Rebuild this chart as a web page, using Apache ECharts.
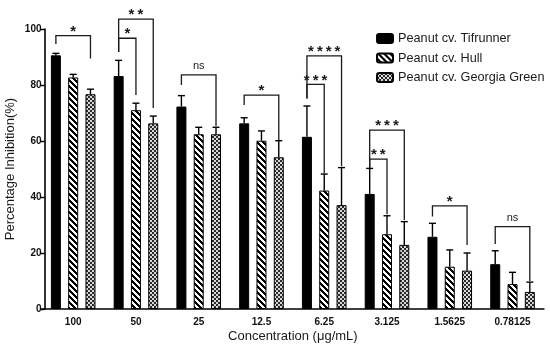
<!DOCTYPE html>
<html>
<head>
<meta charset="utf-8">
<script src="https://cdn.jsdelivr.net/npm/echarts@6/dist/echarts.min.js"></script>
<style>
html,body{margin:0;padding:0;background:#fff;}
#chart{width:550px;height:347px;}
</style>
</head>
<body>
<div id="chart"></div>
<script>
// ---- data ----
const categories = ['100', '50', '25', '12.5', '6.25', '3.125', '1.5625', '0.78125'];
const seriesNames = ['Peanut cv. Tifrunner', 'Peanut cv. Hull', 'Peanut cv. Georgia Green'];
const tifrunner   = [90.6, 83.2, 72.3, 66.3, 61.5, 41.1, 25.8, 16.0];
const tifrunnerSD = [0.7, 5.6, 3.9, 2.0, 11.0, 9.1, 4.8, 4.8];
const hull        = [82.7, 71.0, 62.4, 60.1, 42.3, 26.7, 15.1, 8.9];
const hullSD      = [1.1, 2.5, 2.5, 3.5, 5.9, 6.6, 6.0, 4.2];
const georgia     = [76.7, 66.3, 62.4, 54.2, 37.1, 22.9, 13.7, 6.1];
const georgiaSD   = [1.8, 2.6, 2.5, 5.9, 13.4, 8.3, 6.3, 3.5];
const yTicks = [0, 20, 40, 60, 80, 100];
// significance brackets: [category, fromSeries, toSeries, bracketY, leftLegBottom, rightLegBottom]
const brackets = [
  [0, 0, 2, 97.6, 94.6, 89.5],
  [1, 0, 1, 96.7, 91.8, 76.4],
  [1, 0, 2, 103.5, 91.8, 71.8],
  [2, 0, 2, 83.6, 80.0, 65.4],
  [3, 0, 2, 76.4, 72.9, 60.3],
  [4, 0, 1, 80.2, 75.2, 48.6],
  [4, 0, 2, 90.4, 75.2, 51.0],
  [5, 0, 1, 53.5, 50.4, 33.8],
  [5, 0, 2, 63.9, 50.4, 31.8],
  [6, 0, 2, 36.8, 33.0, 22.9],
  [7, 0, 2, 29.4, 23.2, 10.0]
];
const bracketLabels = ['*', '*', '**', 'ns', '*', '***', '****', '**', '***', '*', 'ns'];

// ---- styling ----
const FONT = "'Liberation Sans', Arial, sans-serif";
const BAR_W = 10;
const BAR_GAP = 0.73;
function barOffset(i) { return (i - 1) * BAR_W * (1 + BAR_GAP); }

function hatchPattern() {
  const c = document.createElement('canvas');
  c.width = 6; c.height = 6;
  const g = c.getContext('2d');
  g.fillStyle = '#fff'; g.fillRect(0, 0, 6, 6);
  g.fillStyle = '#000';
  for (let x = 0; x < 6; x++) for (let y = 0; y < 6; y++) {
    if ((((x - y) % 6) + 6) % 6 < 3) g.fillRect(x, y, 1, 1);
  }
  return { image: c, repeat: 'repeat' };
}
function checkerPattern() {
  const c = document.createElement('canvas');
  c.width = 4; c.height = 4;
  const g = c.getContext('2d');
  g.fillStyle = '#d8d8d8'; g.fillRect(0, 0, 4, 4);
  g.fillStyle = '#2a2a2a';
  g.fillRect(0, 0, 2, 2); g.fillRect(2, 2, 2, 2);
  return { image: c, repeat: 'repeat' };
}

const fills = ['#000', hatchPattern(), checkerPattern()];
const values = [tifrunner, hull, georgia];
const sds = [tifrunnerSD, hullSD, georgiaSD];

const errData = [];
values.forEach((arr, s) => arr.forEach((v, i) => errData.push([i, s, v, v + sds[s][i]])));

function renderError(params, api) {
  const cat = api.value(0), s = api.value(1);
  const p0 = api.coord([cat, api.value(2)]);
  const p1 = api.coord([cat, api.value(3)]);
  const x = p0[0] + barOffset(s);
  return {
    type: 'group',
    children: [
      { type: 'line', shape: { x1: x, y1: p0[1], x2: x, y2: p1[1] }, style: { stroke: '#000', lineWidth: 1.4 } },
      { type: 'line', shape: { x1: x - 3.5, y1: p1[1], x2: x + 3.5, y2: p1[1] }, style: { stroke: '#000', lineWidth: 1.4 } }
    ]
  };
}

function renderBracket(params, api) {
  const cat = api.value(0), a = api.value(1), b = api.value(2);
  const ph = api.coord([cat, api.value(3)]);
  const yl = api.coord([cat, api.value(4)])[1];
  const yr = api.coord([cat, api.value(5)])[1];
  const xl = ph[0] + barOffset(a), xr = ph[0] + barOffset(b);
  const label = bracketLabels[params.dataIndex];
  const isNs = label === 'ns';
  return {
    type: 'group',
    children: [
      { type: 'polyline', shape: { points: [[xl, yl], [xl, ph[1]], [xr, ph[1]], [xr, yr]] },
        style: { stroke: '#1a1a1a', lineWidth: 1.3, fill: null } },
      { type: 'text', style: {
          text: isNs ? 'ns' : label.split('').join('\u2009'),
          x: (xl + xr) / 2, y: isNs ? ph[1] - 9 : ph[1] - 4,
          align: 'center', verticalAlign: 'middle',
          fontFamily: FONT, fontSize: isNs ? 11 : 15, fontWeight: isNs ? 'normal' : 'bold',
          fill: '#1a1a1a' } }
    ]
  };
}

const series = seriesNames.map((name, s) => ({
  type: 'bar', name: name, data: values[s],
  barWidth: BAR_W, barGap: (BAR_GAP * 100) + '%',
  itemStyle: { color: fills[s], borderColor: '#000', borderWidth: 1 },
  emphasis: { disabled: true }, z: 2
}));
series.push({ type: 'custom', data: errData, renderItem: renderError, encode: { x: 0, y: 3 }, z: 3, silent: true });
series.push({ type: 'custom', data: brackets, renderItem: renderBracket, encode: { x: 0, y: 3 }, z: 4, clip: false, silent: true });

const chart = echarts.init(document.getElementById('chart'), null, { renderer: 'canvas' });
chart.setOption({
  animation: false,
  backgroundColor: '#fff',
  grid: { left: 41.8, right: 6.1, top: 29, bottom: 38, containLabel: false, outerBoundsMode: 'none' },
  legend: {
    data: seriesNames, orient: 'vertical', left: 376, top: 32, padding: 0,
    itemWidth: 16, itemHeight: 9, itemGap: 6.5,
    textStyle: { fontFamily: FONT, fontSize: 12.7, color: '#1a1a1a' },
    selectedMode: false
  },
  xAxis: {
    type: 'category', data: categories,
    axisLine: { lineStyle: { color: '#000', width: 1.6 } },
    axisTick: { show: false },
    axisLabel: { fontFamily: FONT, fontSize: 10, fontWeight: 'bold', color: '#111', margin: 8 },
    name: 'Concentration (μg/mL)', nameLocation: 'middle', nameGap: 21, nameMoveOverlap: false,
    nameTextStyle: { fontFamily: FONT, fontSize: 13, color: '#1a1a1a' }
  },
  yAxis: {
    type: 'value', min: yTicks[0], max: yTicks[yTicks.length - 1], interval: 20, offset: -2.7,
    axisLine: { show: true, lineStyle: { color: '#000', width: 1.6 } },
    axisTick: { show: true, length: 4, lineStyle: { color: '#000', width: 1.4 } },
    splitLine: { show: false },
    axisLabel: { fontFamily: FONT, fontSize: 10, fontWeight: 'bold', color: '#111', margin: 3 },
    name: 'Percentage Inhibition(%)', nameLocation: 'middle', nameGap: 28, nameMoveOverlap: false,
    nameTextStyle: { fontFamily: FONT, fontSize: 13, color: '#1a1a1a' }
  },
  series: series
});
</script>
</body>
</html>
